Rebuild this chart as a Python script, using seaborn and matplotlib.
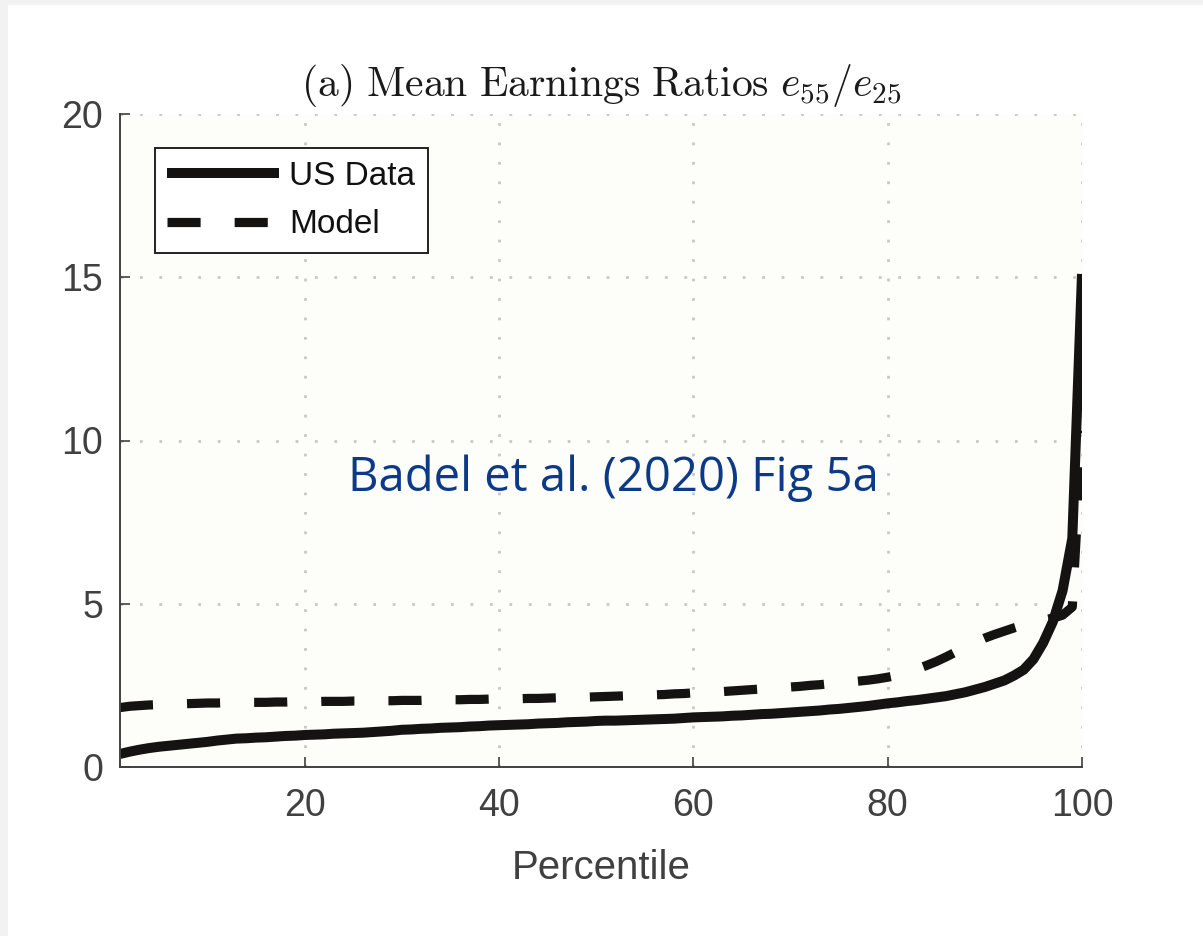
import numpy as np
import pandas as pd
import matplotlib
matplotlib.use("Agg")
import matplotlib.pyplot as plt
from matplotlib.patches import Rectangle
import seaborn as sns

# Percentiles of the earnings distribution
percentile = list(range(1, 101))

# Ratio of mean earnings at age 55 to age 25, by percentile
us_data = [
    0.40, 0.47, 0.53, 0.58, 0.62, 0.65, 0.68, 0.71, 0.74, 0.77,
    0.81, 0.84, 0.87, 0.88, 0.90, 0.91, 0.93, 0.95, 0.96, 0.98,
    0.99, 1.00, 1.02, 1.03, 1.04, 1.05, 1.07, 1.09, 1.11, 1.14,
    1.15, 1.17, 1.18, 1.20, 1.21, 1.22, 1.24, 1.25, 1.27, 1.28,
    1.29, 1.30, 1.31, 1.33, 1.34, 1.35, 1.37, 1.38, 1.39, 1.41,
    1.42, 1.42, 1.43, 1.44, 1.45, 1.46, 1.47, 1.48, 1.50, 1.52,
    1.53, 1.54, 1.55, 1.57, 1.58, 1.60, 1.62, 1.63, 1.65, 1.67,
    1.69, 1.71, 1.73, 1.76, 1.78, 1.81, 1.84, 1.87, 1.91, 1.95,
    1.98, 2.02, 2.05, 2.09, 2.13, 2.17, 2.23, 2.29, 2.37, 2.45,
    2.55, 2.65, 2.80, 2.98, 3.30, 3.80, 4.45, 5.40, 7.00, 15.10,
]
model = [
    1.82, 1.86, 1.88, 1.90, 1.91, 1.92, 1.93, 1.94, 1.95, 1.96,
    1.96, 1.97, 1.97, 1.98, 1.98, 1.98, 1.99, 1.99, 2.00, 2.00,
    2.00, 2.01, 2.01, 2.01, 2.02, 2.02, 2.02, 2.03, 2.03, 2.04,
    2.04, 2.04, 2.05, 2.05, 2.06, 2.06, 2.07, 2.07, 2.08, 2.08,
    2.09, 2.09, 2.10, 2.10, 2.11, 2.12, 2.12, 2.13, 2.14, 2.15,
    2.16, 2.17, 2.18, 2.19, 2.20, 2.21, 2.22, 2.24, 2.25, 2.27,
    2.28, 2.30, 2.31, 2.33, 2.35, 2.37, 2.39, 2.41, 2.43, 2.45,
    2.47, 2.50, 2.52, 2.55, 2.57, 2.60, 2.63, 2.66, 2.70, 2.75,
    2.81, 2.90, 3.00, 3.11, 3.23, 3.37, 3.52, 3.67, 3.82, 3.95,
    4.06, 4.16, 4.26, 4.35, 4.43, 4.50, 4.56, 4.65, 4.90, 10.30,
]

x_ticks = [20, 40, 60, 80, 100]
y_ticks = [0, 5, 10, 15, 20]

sns.set_theme(style="ticks")
plt.rcParams["font.family"] = ["Liberation Sans", "DejaVu Sans"]
plt.rcParams["mathtext.fontset"] = "cm"

axis_grey = "#404040"
line_color = "#151212"

fig = plt.figure(figsize=(12.03, 9.36), dpi=100, facecolor="white")
# thin light frame along the top and left edges
fig.patches.append(Rectangle((0, 0), 8 / 1203, 1, transform=fig.transFigure,
                             facecolor="#f2f2f2", edgecolor="none", zorder=0))
fig.patches.append(Rectangle((0, 1 - 5 / 936), 1, 5 / 936, transform=fig.transFigure,
                             facecolor="#f2f2f2", edgecolor="none", zorder=0))

ax = fig.add_axes([120 / 1203, 1 - 767 / 936, 962 / 1203, 653 / 936])
ax.set_facecolor("#fdfdf9")

df = pd.DataFrame({"Percentile": percentile, "US Data": us_data, "Model": model})

lw = 7.2
sns.lineplot(data=df, x="Percentile", y="US Data", ax=ax, color=line_color,
             lw=lw, label="US Data", solid_capstyle="butt", solid_joinstyle="round")
sns.lineplot(data=df, x="Percentile", y="Model", ax=ax, color=line_color,
             lw=lw * 0.92, label="Model", dashes=False)
model_line = ax.get_lines()[-1]
model_line.set_linestyle((0, (3.6, 3.7)))
model_line.set_dash_capstyle("butt")

ax.set_xlim(1, 100)
ax.set_ylim(0, 20)
ax.set_xticks(x_ticks)
ax.set_yticks(y_ticks)
ax.grid(True, linestyle=(0, (1, 6)), color="#c8c8c8", lw=2.0)
ax.set_axisbelow(True)

for side in ["top", "right"]:
    ax.spines[side].set_visible(False)
for side in ["left", "bottom"]:
    ax.spines[side].set_color(axis_grey)
    ax.spines[side].set_linewidth(1.4)

ax.tick_params(axis="both", direction="in", length=7, width=1.2, color=axis_grey,
               labelsize=27, labelcolor=axis_grey)
ax.tick_params(axis="y", pad=12)
ax.tick_params(axis="x", pad=15)

ax.set_xlabel("Percentile", fontsize=29, color=axis_grey, labelpad=18)
ax.set_ylabel("")

ax.set_title(r"$\mathrm{(a)\ Mean\ Earnings\ Ratios}\ e_{55}/e_{25}$",
             fontsize=30, color="#1a1a1a", pad=13)

leg = ax.legend(loc="upper left", bbox_to_anchor=(0.036, 0.948), borderaxespad=0,
                fontsize=24, handlelength=3.35, handletextpad=0.3, labelspacing=0.53,
                borderpad=0.38, fancybox=False, framealpha=1, edgecolor="#222222")
leg.get_frame().set_linewidth(1.4)
for t in leg.get_texts():
    t.set_color("#111111")

ax.text(51.8, 8.85, "Badel et al. (2020) Fig 5a", fontsize=34, color="#0d3a87",
        ha="center", va="center", family=["Open Sans", "DejaVu Sans"])

fig.savefig("out.png", dpi=100, facecolor=fig.get_facecolor())
